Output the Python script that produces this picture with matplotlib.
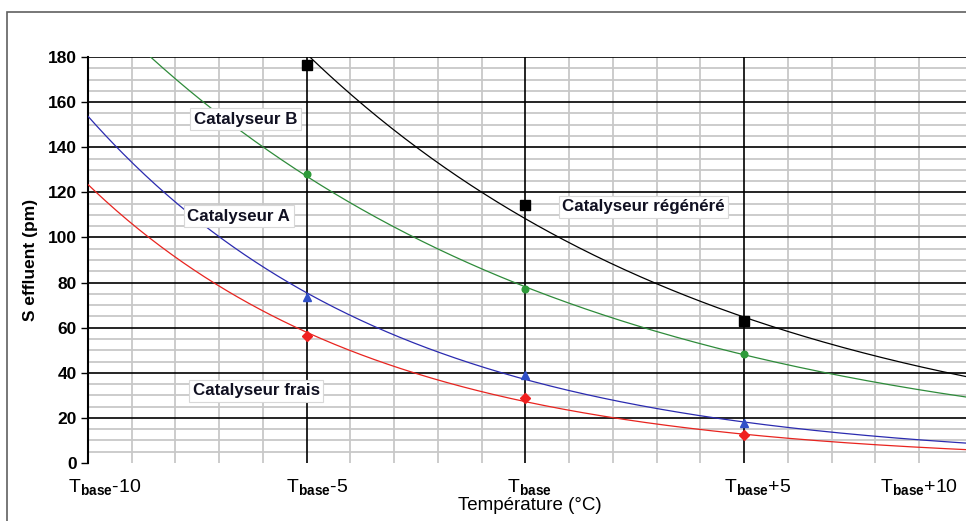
import numpy as np
import matplotlib
matplotlib.use('Agg')
import matplotlib.pyplot as plt
from matplotlib.patches import Rectangle

plt.rcParams['font.family'] = ['Liberation Sans', 'DejaVu Sans']
plt.rcParams['mathtext.fontset'] = 'custom'
plt.rcParams['mathtext.rm'] = 'Liberation Sans'
plt.rcParams['mathtext.bf'] = 'Liberation Sans:bold'

# mesures : température relative à Tbase, S effluent (pm)
temp = [-5, 0, 5]
regenere = [176.4, 114.4, 62.9]
cata_b = [128.0, 77.0, 48.3]
cata_a = [73.5, 39.0, 17.7]
frais = [56.3, 28.8, 12.4]

xtick_labels = [r'$\mathrm{T}_{\mathbf{base}}$-10', r'$\mathrm{T}_{\mathbf{base}}$-5',
                r'$\mathrm{T}_{\mathbf{base}}$', r'$\mathrm{T}_{\mathbf{base}}$+5',
                r'$\mathrm{T}_{\mathbf{base}}$+10']
xtick_pos = [-9.63, -4.77, 0.10, 5.31, 8.99]

series = [
    ('Catalyseur régénéré', regenere, 'black', 'black', 's', 6.5, (2.7, 113.5)),
    ('Catalyseur B', cata_b, '#2e8b3a', '#2e9b3a', 'o', 4.8, (-6.4, 152.5)),
    ('Catalyseur A', cata_a, '#2b2bb0', '#3050c8', '^', 5.5, (-6.55, 109.5)),
    ('Catalyseur frais', frais, '#e8241f', '#f02020', 'D', 5.0, (-6.15, 32.0)),
]

fig = plt.figure(figsize=(9.66, 5.21), dpi=100)
fig.patches.append(Rectangle((7 / 966, -0.1), 1.2, (521 - 12) / 521 + 0.1,
                             transform=fig.transFigure, fill=False,
                             ec='#606060', lw=1.2))

ax = fig.add_axes([88 / 966, 58 / 521, 878 / 966, 406 / 521])
xmin, xmax = -10, 10.07
ax.set_xlim(xmin, xmax)
ax.set_ylim(0, 180)

# quadrillage
for yv in np.arange(5, 180, 5):
    if yv % 20:
        ax.axhline(yv, color='#c8c8c8', lw=1.3, zorder=0)
for xv in np.arange(-9, 11, 1):
    if xv % 5:
        ax.axvline(xv, color='#c8c8c8', lw=1.3, zorder=0)
for yv in np.arange(20, 181, 20):
    ax.axhline(yv, color='black', lw=1.2, zorder=1)
for xv in [-5, 0, 5]:
    ax.axvline(xv, color='black', lw=1.2, zorder=1)

xs = np.linspace(xmin, xmax, 400)
for name, vals, lc, mc, mk, ms, (tx, ty) in series:
    k, b = np.polyfit(temp, np.log(vals), 1)
    ax.plot(xs, np.exp(b + k * xs), color=lc, lw=0.9, zorder=3)
    ax.plot(temp, vals, ls='none', marker=mk, ms=ms, color=mc, zorder=4)
    ax.text(tx, ty, name, ha='center', va='center', fontsize=12.2, fontweight='bold',
            color='#111122', zorder=5,
            bbox=dict(boxstyle='square,pad=0.2', fc='white', ec='#d8d8d8', lw=0.8))

for s in ['top', 'right', 'bottom']:
    ax.spines[s].set_visible(False)
ax.spines['left'].set_linewidth(1.5)

ax.set_yticks(np.arange(0, 181, 20))
ax.tick_params(axis='y', length=5, width=1, pad=3, labelsize=12.5)
for lab in ax.get_yticklabels():
    lab.set_fontweight('bold')
ax.set_xticks([])

for lab, xp in zip(xtick_labels, xtick_pos):
    ax.text(xp, -6.5, lab, ha='center', va='top', fontsize=14)

fig.text(530 / 966, 1 - 506 / 521, 'Température (°C)', ha='center', va='center', fontsize=13.5)
fig.text(30 / 966, 1 - 260 / 521, 'S effluent (pm)', ha='center', va='center',
         rotation=90, fontsize=12.5, fontweight='bold')

fig.savefig('out.png', dpi=100)
